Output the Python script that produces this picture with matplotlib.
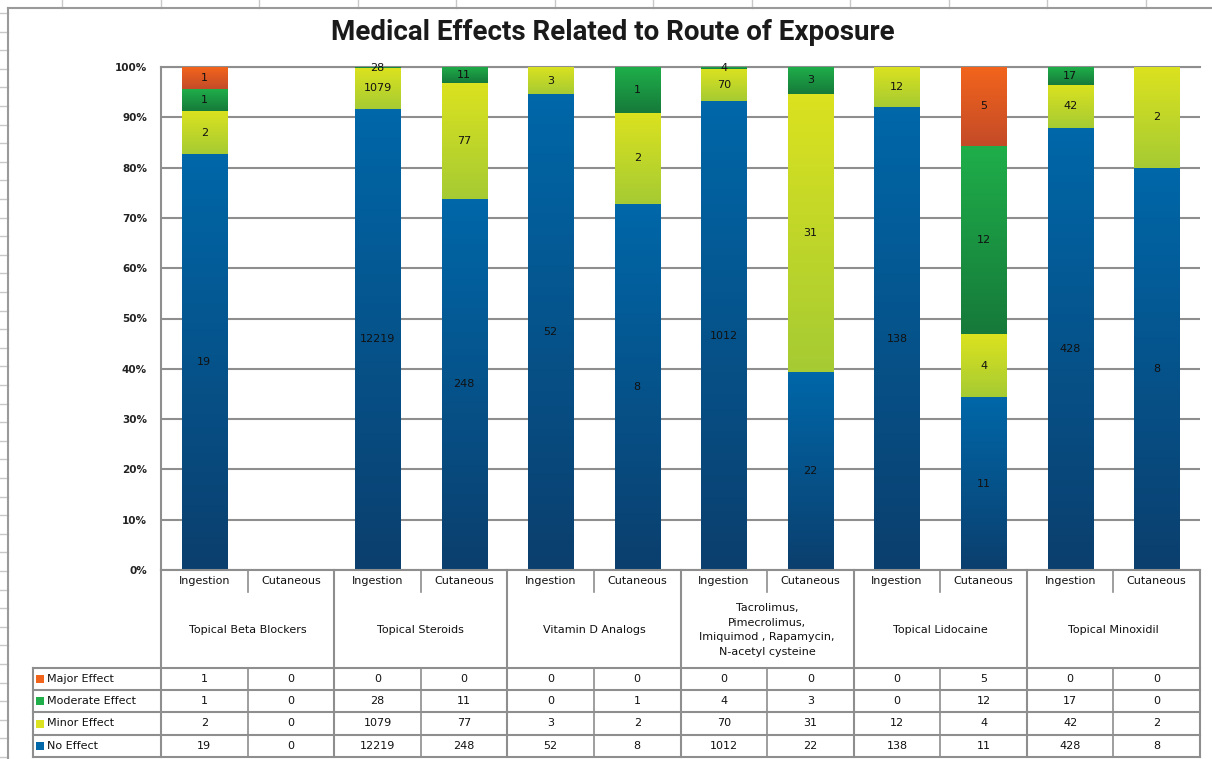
import numpy as np
import matplotlib
matplotlib.use("Agg")
import matplotlib.pyplot as plt
from matplotlib.colors import LinearSegmentedColormap
from matplotlib.lines import Line2D

# counts per drug class and route
groups = ["Topical Beta Blockers", "Topical Steroids", "Vitamin D Analogs",
          "Tacrolimus,\nPimecrolimus,\nImiquimod , Rapamycin,\nN-acetyl cysteine",
          "Topical Lidocaine", "Topical Minoxidil"]
routes = ["Ingestion", "Cutaneous"]

no_effect = [19, 0, 12219, 248, 52, 8, 1012, 22, 138, 11, 428, 8]
minor = [2, 0, 1079, 77, 3, 2, 70, 31, 12, 4, 42, 2]
moderate = [1, 0, 28, 11, 0, 1, 4, 3, 0, 12, 17, 0]
major = [1, 0, 0, 0, 0, 0, 0, 0, 0, 5, 0, 0]

series_names = ["No Effect", "Minor Effect", "Moderate Effect", "Major Effect"]
series_vals = [no_effect, minor, moderate, major]
# (top colour, bottom colour) of each segment's gradient
series_cols = [("#0067a8", "#0b3f6e"), ("#dbe21f", "#a6cb33"),
               ("#1fae4a", "#167a3a"), ("#f2641c", "#c44b28")]

W, H = 1212, 759
fig = plt.figure(figsize=(W / 100, H / 100), dpi=100)
fig.patch.set_facecolor("white")


def fx(px):
    return px / W


def fy(py):
    return 1 - py / H


# worksheet cells around the chart object
for x in np.arange(62, W, 98.5):
    fig.add_artist(Line2D([fx(x), fx(x)], [fy(0), fy(8)], color="#c8c8c8", lw=1))
for y in np.arange(13, H, 18.6):
    fig.add_artist(Line2D([fx(0), fx(8)], [fy(y), fy(y)], color="#c8c8c8", lw=1))
fig.add_artist(Line2D([fx(8), fx(8)], [fy(8), fy(H)], color="#9a9a9a", lw=1.5))
fig.add_artist(Line2D([fx(8), fx(W)], [fy(8), fy(8)], color="#9a9a9a", lw=1.5))

fig.text(fx(613), fy(33), "Medical Effects Related to Route of Exposure",
         ha="center", va="center", fontsize=20, fontweight="bold",
         family=["Roboto", "DejaVu Sans"], color="#1a1a1a")

left, right, top, bottom = 161, 1200, 67, 570
ax = fig.add_axes([fx(left), fy(bottom), fx(right - left), (bottom - top) / H])

n = len(no_effect)
x = np.arange(n)
totals = np.array(series_vals).sum(axis=0).astype(float)
safe = np.where(totals == 0, 1, totals)

grad = np.linspace(0, 1, 64).reshape(-1, 1)
base = np.zeros(n)
for vals, (c_top, c_bot) in zip(series_vals, series_cols):
    pct = np.array(vals) / safe * 100
    bars = ax.bar(x, pct, 0.52, bottom=base, color=c_top, zorder=2)
    cmap = LinearSegmentedColormap.from_list("g", [c_top, c_bot])
    for b, v, p in zip(bars, vals, pct):
        if p <= 0:
            continue
        x0, y0 = b.get_x(), b.get_y()
        im = ax.imshow(grad, cmap=cmap, aspect="auto", zorder=3,
                       extent=(x0, x0 + b.get_width(), y0, y0 + p), origin="upper")
        im.set_clip_path(b)
        ax.text(b.get_x() + b.get_width() / 2, y0 + p / 2, str(v),
                ha="center", va="center", fontsize=8, color="#111111", zorder=4)
    base = base + pct

ax.set_xlim(-0.5, n - 0.5)
ax.set_ylim(0, 100)
ax.set_yticks(np.arange(0, 101, 10))
ax.set_yticklabels([f"{t}%" for t in range(0, 101, 10)], fontsize=7.5,
                   fontweight="bold", color="#222222")
ax.tick_params(axis="y", length=0, pad=10)
ax.set_xticks([])
ax.yaxis.grid(True, color="#8e8e8e", lw=1.5, zorder=0)
ax.set_axisbelow(True)
for s in ["bottom", "right"]:
    ax.spines[s].set_visible(False)
for s in ["left", "top"]:
    ax.spines[s].set_color("#8e8e8e")
    ax.spines[s].set_linewidth(1.5)

# category table and data table under the plot
tab = fig.add_axes([fx(left), 0, fx(right - left), (H - bottom) / H])
tab.set_xlim(-0.5, n - 0.5)
tab.set_ylim(H, bottom)
tab.axis("off")

lc = "#8e8e8e"
row_y = [668, 690, 712, 735, 757]
label_x0 = -0.5 - (left - 33) / ((right - left) / n)

tab.plot([-0.5, n - 0.5], [bottom, bottom], color=lc, lw=1.5, clip_on=False)
for k in range(0, n + 1, 2):
    tab.plot([k - 0.5, k - 0.5], [bottom, 757], color=lc, lw=1.5, clip_on=False)
for k in range(1, n, 2):
    tab.plot([k - 0.5, k - 0.5], [bottom, 592], color=lc, lw=1.2, clip_on=False)
    tab.plot([k - 0.5, k - 0.5], [668, 757], color=lc, lw=1.2, clip_on=False)
for y in row_y:
    tab.plot([label_x0, n - 0.5], [y, y], color=lc, lw=1.5, clip_on=False)
tab.plot([label_x0, label_x0], [668, 757], color=lc, lw=1.5, clip_on=False)

small = dict(fontsize=8, color="#111111", ha="center", va="center")
for i in range(n):
    tab.text(i, 581, routes[i % 2], **small)
for g, name in enumerate(groups):
    tab.text(2 * g + 0.5, 630, name, linespacing=1.55, **small)

table_rows = list(zip(series_names, series_vals, series_cols))[::-1]
for r, (name, vals, (c_top, c_bot)) in enumerate(table_rows):
    yc = (row_y[r] + row_y[r + 1]) / 2
    tab.scatter([label_x0 + 0.08], [yc], marker="s", s=36, color=c_top,
                clip_on=False, zorder=3, linewidths=0)
    tab.text(label_x0 + 0.16, yc, name, fontsize=8, color="#111111",
             ha="left", va="center")
    for i, v in enumerate(vals):
        tab.text(i, yc, str(v), **small)

fig.savefig("out.png", dpi=100)
